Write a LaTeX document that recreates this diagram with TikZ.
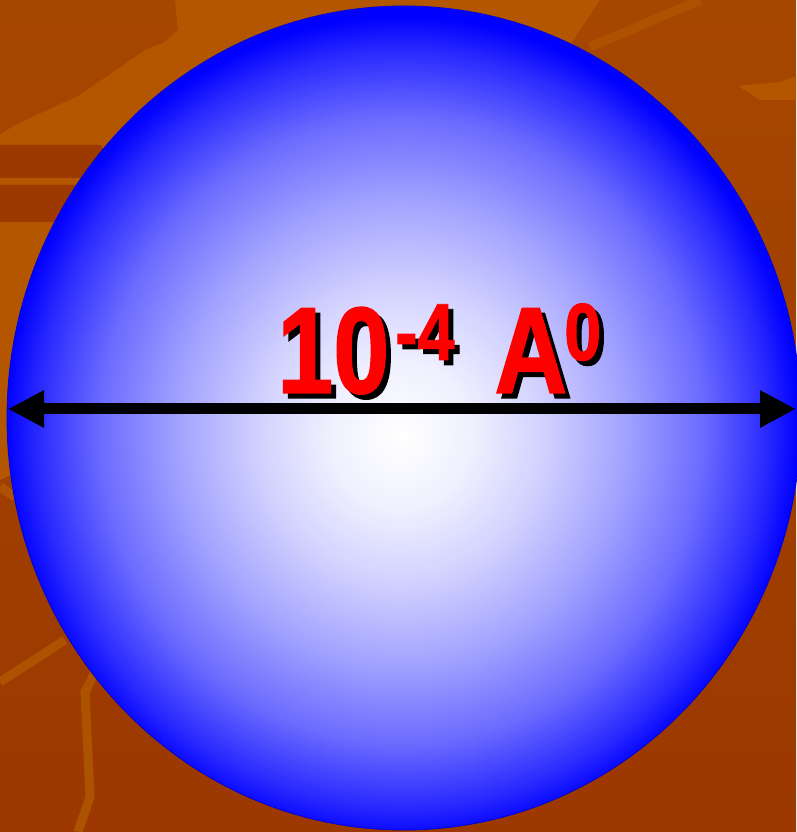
\documentclass[tikz,border=0pt]{standalone}
\usepackage{fontspec}
\usetikzlibrary{arrows.meta,shapes.geometric}
\newfontfamily\labelfont{Liberation Sans}[FakeStretch=0.82,FakeBold=1.2]
\definecolor{bglight}{RGB}{180,85,0}
\definecolor{bgmid}{RGB}{166,71,0}
\definecolor{bgdark}{RGB}{156,56,0}
\definecolor{bgline}{RGB}{172,82,0}
\pgfdeclareradialshading{ballshade}{\pgfpoint{-0.25bp}{-1.2bp}}{%
  color(0bp)=(white); color(4.5bp)=(white!94!blue); color(9bp)=(white!82!blue);
  color(14bp)=(white!64!blue); color(19bp)=(white!42!blue);
  color(23bp)=(white!16!blue); color(25bp)=(blue); color(50bp)=(blue)}
\newcommand\sizetext{\labelfont\bfseries\fontsize{123}{123}\selectfont
  10\hspace{6pt}\raisebox{33pt}{\fontsize{81}{81}\selectfont -4}\hspace{40pt}A\hspace{-3pt}\raisebox{33pt}{\fontsize{81}{81}\selectfont 0}}
\newcommand\shadowtext{\rlap{\hspace{5pt}\raisebox{-5pt}{\color{black}\sizetext}}\color{red}\sizetext}
\tikzset{
  ball/.style={ellipse, minimum width=794pt, minimum height=824pt, inner sep=0pt,
    shading=ballshade, draw=blue!85!black, line width=0.8pt},
  sizearrow/.style={line width=11pt,
    {Triangle[length=36pt,width=35pt]}-{Triangle[length=36pt,width=35pt]}},
  sizelabel/.style={anchor=base west, inner sep=0pt}
}
\begin{document}
\begin{tikzpicture}[x=1pt,y=1pt]
    \useasboundingbox (0,0) rectangle (796,832);
    % Fundo
    \shade[top color=bgmid, bottom color=bgdark] (0,0) rectangle (796,832);
    \fill[bglight] (0,697) -- (15,707) -- (80,737) -- (145,782) -- (165,790) -- (178,802)
        -- (175,832) -- (600,832) -- (400,532) -- (0,352) -- cycle;
    \fill[bgdark] (0,687) -- (100,687) -- (105,682) -- (100,654) -- (0,654) -- cycle;
    \fill[bgdark] (0,647) -- (80,647) -- (75,610) -- (0,610) -- cycle;
    \draw[bgline, line width=9pt] (0,150) -- (65,192);
    \draw[bgline, line width=9pt] (0,345) -- (15,335);
    \draw[bgline, line width=9pt] (95,160) -- (85,140) -- (90,35) -- (78,0);
    \draw[bgline, line width=9pt] (590,785) -- (700,832);
    \fill[bglight] (738,746) -- (780,750) -- (796,756) -- (796,732) -- (760,732) -- cycle;
    % Bola
    \node[ball] (ball) at (404,414) {};
    % Diametro
    \coordinate (lefttip) at (8,423);
    \coordinate (righttip) at (796,423);
    \draw[sizearrow] (lefttip) -- (righttip);
    % Rotulo com sombra
    \node[sizelabel] (label) at (277,439) {\shadowtext};
\end{tikzpicture}
\end{document}
